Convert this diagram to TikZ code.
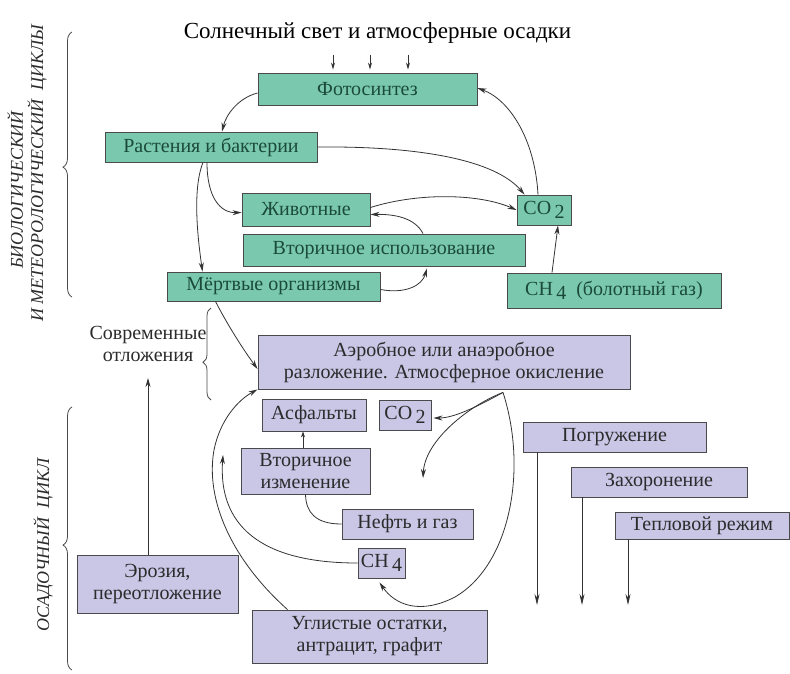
\documentclass[tikz,border=0pt]{standalone}
\usepackage{fontspec}
\newfontfamily\tms{Liberation Serif}
\usetikzlibrary{arrows.meta,decorations.pathreplacing,calc}
\definecolor{gfill}{HTML}{7AC9AF}
\definecolor{gtext}{HTML}{1B4A3B}
\definecolor{pfill}{HTML}{C9C6E6}
\definecolor{ptext}{HTML}{2B2B2B}
\definecolor{edge}{HTML}{4A4A4A}
\definecolor{ln}{HTML}{333333}
\newcommand{\subx}[1]{\raisebox{-0.45ex}{\,#1}}
\begin{document}
\begin{tikzpicture}[x=1pt,y=-1pt,
  gbox/.style={draw=edge,line width=0.9pt,fill=gfill,text=gtext,inner sep=0pt,font=\tms\fontsize{20}{22}\selectfont},
  pbox/.style={draw=edge,line width=0.9pt,fill=pfill,text=ptext,inner sep=0pt,align=center,font=\tms\fontsize{20}{22}\selectfont},
  arr/.style={draw=ln,line width=0.8pt,-{Stealth[length=9pt,width=5pt]}},
  plain/.style={draw=ln,line width=0.8pt},
  brc/.style={draw=edge,line width=0.8pt,decorate,decoration={brace,amplitude=9pt}},
  side/.style={font=\tms\fontsize{18}{20}\selectfont\itshape,text=ptext,rotate=90,inner sep=0pt}]
\useasboundingbox (0,0) rectangle (790,673);

% title
\node[font=\tms\fontsize{23}{26}\selectfont,text=black,inner sep=0pt] (title) at (377.5,33) {Солнечный свет и атмосферные осадки};

% green boxes
\node[gbox,minimum width=219pt,minimum height=32pt] (foto) at (367.5,89) {Фотосинтез};
\node[gbox,minimum width=212pt,minimum height=30pt] (rast) at (211,147) {Растения и бактерии};
\node[gbox,minimum width=128pt,minimum height=33pt] (zhiv) at (306,209.5) {Животные};
\node[gbox,minimum width=282pt,minimum height=32pt] (vtor) at (384,250) {Вторичное использование};
\node[gbox,minimum width=213pt,minimum height=29pt] (mert) at (273.5,286.5) {Мёртвые организмы};
\node[gbox,minimum width=54pt,minimum height=30pt] (co2a) at (544,210) {CO\subx{2}};
\node[gbox,minimum width=214pt,minimum height=35pt] (ch4a) at (614,290.5) {CH\subx{4}\ \ (болотный газ)};

% purple boxes
\node[pbox,minimum width=372pt,minimum height=54pt] (aero) at (444,362) {Аэробное или анаэробное\\разложение. Атмосферное окисление};
\node[pbox,minimum width=104pt,minimum height=32pt] (asf) at (314,415) {Асфальты};
\node[pbox,minimum width=52pt,minimum height=30pt] (co2b) at (405,415) {CO\subx{2}};
\node[pbox,minimum width=129pt,minimum height=46pt] (vizm) at (305.5,471) {Вторичное\\изменение};
\node[pbox,minimum width=131pt,minimum height=30pt] (neft) at (407.5,524) {Нефть и газ};
\node[pbox,minimum width=47pt,minimum height=30pt] (ch4b) at (381.5,563) {CH\subx{4}};
\node[pbox,minimum width=161pt,minimum height=58pt] (eroz) at (157.5,584) {Эрозия,\\переотложение};
\node[pbox,minimum width=235pt,minimum height=53pt] (ugl) at (369.5,636.5) {Углистые остатки,\\антрацит, графит};
\node[pbox,minimum width=183pt,minimum height=30pt] (pogr) at (614.5,437) {Погружение};
\node[pbox,minimum width=176pt,minimum height=30pt] (zah) at (659,482) {Захоронение};
\node[pbox,minimum width=174pt,minimum height=27pt] (tepl) at (702,525.5) {Тепловой режим};

% side labels
\node[side] (bio1) at (15,190) {БИОЛОГИЧЕСКИЙ};
\node[side] (bio2) at (37,173) {И МЕТЕОРОЛОГИЧЕСКИЙ\ \ ЦИКЛЫ};
\node[side] (osad) at (43,545) {ОСАДОЧНЫЙ\ \ ЦИКЛ};
\node[font=\tms\fontsize{20}{22}\selectfont,text=ptext,align=center,inner sep=0pt] (sovr) at (148,344) {Современные\\отложения};

% braces
\coordinate (b1a) at (72,297); \coordinate (b1b) at (72,32);
\draw[brc,decoration={aspect=0.49}] (b1a) -- (b1b);
\coordinate (b2a) at (211,400); \coordinate (b2b) at (211,308);
\draw[brc,decoration={aspect=0.41,amplitude=8pt}] (b2a) -- (b2b);
\coordinate (b3a) at (72,670); \coordinate (b3b) at (72,407);
\draw[brc,decoration={aspect=0.475}] (b3a) -- (b3b);

% top arrows
\draw[arr,-{Stealth[length=7pt,width=4pt]}] ([xshift=-44.5pt,yshift=-11pt]title.south) -- ([xshift=-34.5pt,yshift=3pt]foto.north);
\draw[arr,-{Stealth[length=7pt,width=4pt]}] ([xshift=-7.5pt,yshift=-11pt]title.south) -- ([xshift=2.5pt,yshift=3pt]foto.north);
\draw[arr,-{Stealth[length=7pt,width=4pt]}] ([xshift=30.5pt,yshift=-11pt]title.south) -- ([xshift=40.5pt,yshift=3pt]foto.north);

% upper connectors
\draw[arr] ([yshift=-4pt]foto.west) .. controls (238,98) and (226,115) .. ([xshift=11pt]rast.north);
\draw[arr] (rast.east) .. controls (420,146) and (495,160) .. ([xshift=8pt]co2a.north west);
\draw[arr] ([xshift=-6pt]co2a.north) .. controls (535,140) and (510,100) .. ([yshift=1pt]foto.east);
\draw[arr] ([xshift=-4pt]rast.south) .. controls (207,197) and (220,213) .. ([yshift=-3pt]zhiv.west);
\draw[arr] ([xshift=-8pt]rast.south) .. controls (192,190) and (198,240) .. ([xshift=-71pt]mert.north);
\draw[arr] ([yshift=2pt]zhiv.east) .. controls (420,192) and (480,194) .. (co2a.west);
\draw[arr] ([xshift=39pt]vtor.north) .. controls (415,218) and (395,214) .. ([yshift=-5pt]zhiv.east);
\draw[arr] ([yshift=-3pt]mert.east) .. controls (405,294) and (422,286) .. ([xshift=43pt,yshift=-2pt]vtor.south);
\draw[arr] ([xshift=-62pt]ch4a.north) -- ([xshift=14pt]co2a.south);
\draw[arr] ([xshift=-58pt]mert.south) .. controls (225,320) and (240,345) .. ([yshift=-7pt]aero.west);

% lower connectors
\coordinate (aout) at ([xshift=59pt,yshift=-3pt]aero.south);
\coordinate (fr1) at (423,478);
\draw[arr] (aout) .. controls (480,405) and (455,418) .. ([xshift=2pt,yshift=-3pt]co2b.east);
\draw[arr] (aout) .. controls (470,405) and (425,440) .. (fr1);
\draw[arr] (aout) .. controls (528,470) and (510,565) .. (455,597) .. controls (420,615) and (395,605) .. ([xshift=-2pt,yshift=-4pt]ch4b.south);
\draw[arr,-{Stealth[length=6pt,width=4pt]}] ([xshift=-2.5pt]vizm.north) -- ([xshift=-11pt]asf.south);
\draw[plain] (neft.west) .. controls (315,524) and (306,512) .. (vizm.south);
\coordinate (fr2) at (223,455);
\draw[arr] (ch4b.west) .. controls (260,563) and (218,525) .. (fr2);
\draw[arr] ([xshift=-82pt]ugl.north) .. controls (232,560) and (205,500) .. (214,450) .. controls (220,420) and (238,400) .. (aero.south west);
\coordinate (fr3) at (148,378);
\draw[arr] ([xshift=-9.5pt]eroz.north) -- (fr3);
\coordinate (d1) at (537,605);
\coordinate (d2) at (582,605);
\coordinate (d3) at (628,605);
\draw[arr,-{Stealth[length=11pt,width=5pt]}] ([xshift=-77.5pt]pogr.south) -- (d1);
\draw[arr,-{Stealth[length=11pt,width=5pt]}] ([xshift=-77pt]zah.south) -- (d2);
\draw[arr,-{Stealth[length=11pt,width=5pt]}] ([xshift=-74pt]tepl.south) -- (d3);
\end{tikzpicture}
\end{document}
